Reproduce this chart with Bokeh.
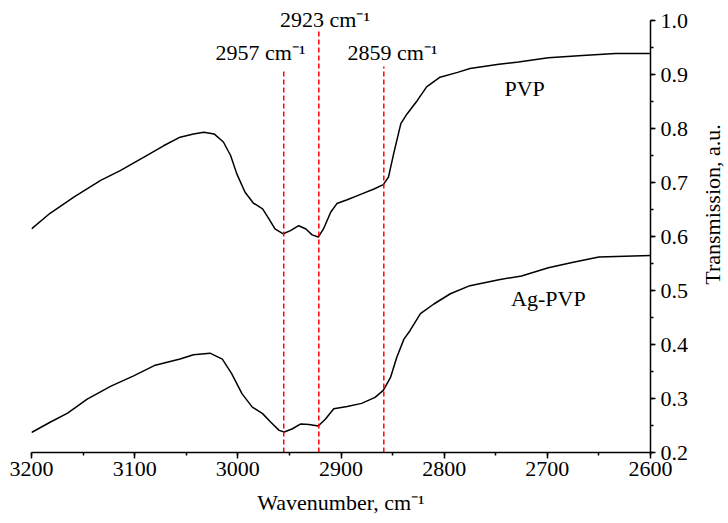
import math
from bokeh.plotting import figure
from bokeh.models import (Range1d, SingleIntervalTicker, NumeralTickFormatter,
                          ColumnDataSource, LabelSet, Label)
from bokeh.embed import file_html
from bokeh.resources import INLINE

# ---- data ----
pvp_wn = [3200, 3182, 3159, 3133, 3114, 3091, 3072, 3056, 3043, 3033, 3023,
          3014, 3007, 3001, 2993, 2985, 2976, 2970, 2964, 2956, 2949, 2941,
          2934, 2928, 2922, 2917, 2910, 2904, 2894, 2881, 2868, 2859, 2854,
          2849, 2842, 2836, 2826, 2817, 2804, 2787, 2775, 2747, 2728, 2699,
          2666, 2634, 2600]
pvp_t = [0.614, 0.643, 0.673, 0.704, 0.722, 0.747, 0.768, 0.784, 0.790, 0.793,
         0.790, 0.775, 0.750, 0.716, 0.682, 0.662, 0.651, 0.633, 0.614, 0.605,
         0.611, 0.620, 0.614, 0.603, 0.599, 0.614, 0.645, 0.661, 0.668, 0.678,
         0.688, 0.696, 0.710, 0.753, 0.809, 0.827, 0.852, 0.877, 0.895, 0.904,
         0.911, 0.919, 0.923, 0.931, 0.935, 0.939, 0.939]

agpvp_wn = [3200, 3182, 3165, 3146, 3123, 3101, 3081, 3056, 3043, 3027, 3015,
            3006, 2996, 2986, 2976, 2968, 2960, 2955, 2947, 2939, 2931, 2922,
            2915, 2907, 2894, 2880, 2867, 2859, 2852, 2846, 2839, 2833, 2823,
            2810, 2794, 2775, 2747, 2725, 2699, 2676, 2650, 2600]
agpvp_t = [0.237, 0.256, 0.273, 0.299, 0.323, 0.342, 0.361, 0.373, 0.381, 0.384,
           0.373, 0.346, 0.309, 0.284, 0.272, 0.256, 0.241, 0.238, 0.244, 0.253,
           0.252, 0.249, 0.262, 0.281, 0.285, 0.291, 0.302, 0.315, 0.339, 0.376,
           0.410, 0.426, 0.457, 0.475, 0.494, 0.509, 0.520, 0.527, 0.542, 0.552,
           0.562, 0.565]

peak_pos = [2955.5, 2921.5, 2858.5]
peak_top = [0.907, 0.981, 0.915]
peak_labels = ["2957 cm\u207b\u00b9", "2923 cm\u207b\u00b9", "2859 cm\u207b\u00b9"]
peak_label_x = [2978.0, 2915.5, 2850.0]
peak_label_y = [0.926, 0.988, 0.926]

series_names = ["PVP", "Ag-PVP"]
series_label_x = [2722, 2699]
series_label_y = [0.861, 0.472]

x_title = "Wavenumber, cm\u207b\u00b9"
y_title = "Transmission, a.u."

x_start, x_end = 3200, 2600
y_start, y_end = 0.2, 1.0
y_view_end = 1.0278   # frame a little taller than the axis so top label is not clipped

FONT = "Liberation Serif"
FS = "22px"

p = figure(width=728, height=523, output_backend="svg", toolbar_location=None,
           x_range=Range1d(x_start, x_end), y_range=Range1d(y_start, y_view_end),
           y_axis_location="right",
           min_border_left=31, min_border_top=5, min_border_right=78,
           min_border_bottom=71)
p.outline_line_color = None
p.grid.visible = False
p.background_fill_color = "white"
p.border_fill_color = "white"

# curves
p.line(pvp_wn, pvp_t, line_color="black", line_width=1.5, line_join="round")
p.line(agpvp_wn, agpvp_t, line_color="black", line_width=1.5, line_join="round")

# dashed markers
p.segment(x0=peak_pos, y0=[y_start] * len(peak_pos), x1=peak_pos, y1=peak_top,
          line_color="#ff0000", line_width=1.5, line_dash="5 3")

src = ColumnDataSource(dict(x=peak_label_x, y=peak_label_y, t=peak_labels))
p.add_layout(LabelSet(x="x", y="y", text="t", source=src, text_align="center",
                      text_baseline="alphabetic", text_font=FONT,
                      text_font_size=FS, text_color="black"))

src2 = ColumnDataSource(dict(x=series_label_x, y=series_label_y, t=series_names))
p.add_layout(LabelSet(x="x", y="y", text="t", source=src2, text_align="center",
                      text_baseline="alphabetic", text_font=FONT,
                      text_font_size=FS, text_color="black"))

# axes
xa = p.xaxis[0]
xa.ticker = SingleIntervalTicker(interval=100, num_minor_ticks=2)
xa.axis_label = x_title
ya = p.yaxis[0]
ya.ticker = SingleIntervalTicker(interval=0.1, num_minor_ticks=2)
ya.formatter = NumeralTickFormatter(format="0.0")
ya.bounds = (y_start, y_end)
ya.axis_label = None

for ax in (xa, ya):
    ax.axis_line_width = 1.5
    ax.major_tick_line_width = 1.5
    ax.minor_tick_line_width = 1.5
    ax.major_tick_in = 0
    ax.minor_tick_in = 0
    ax.minor_tick_out = 3
    ax.major_label_text_font = FONT
    ax.major_label_text_font_size = FS
    ax.major_label_text_color = "black"
    ax.axis_label_text_font = FONT
    ax.axis_label_text_font_size = FS
    ax.axis_label_text_font_style = "normal"
    ax.axis_label_text_color = "black"
    ax.axis_line_color = "black"
    ax.major_tick_line_color = "black"
    ax.minor_tick_line_color = "black"

xa.major_tick_out = 6
xa.major_label_standoff = 3
xa.axis_label_standoff = 11
ya.major_tick_out = 5
ya.major_label_standoff = 5

# right-hand title, placed in the right side panel (read bottom-to-top)
p.add_layout(Label(x=2539.5, y=0.6593, text=y_title, angle=math.pi / 2,
                   text_align="center", text_baseline="middle",
                   text_font=FONT, text_font_size=FS, text_color="black"),
             "right")

open("out.html", "w").write(file_html(p, INLINE))
